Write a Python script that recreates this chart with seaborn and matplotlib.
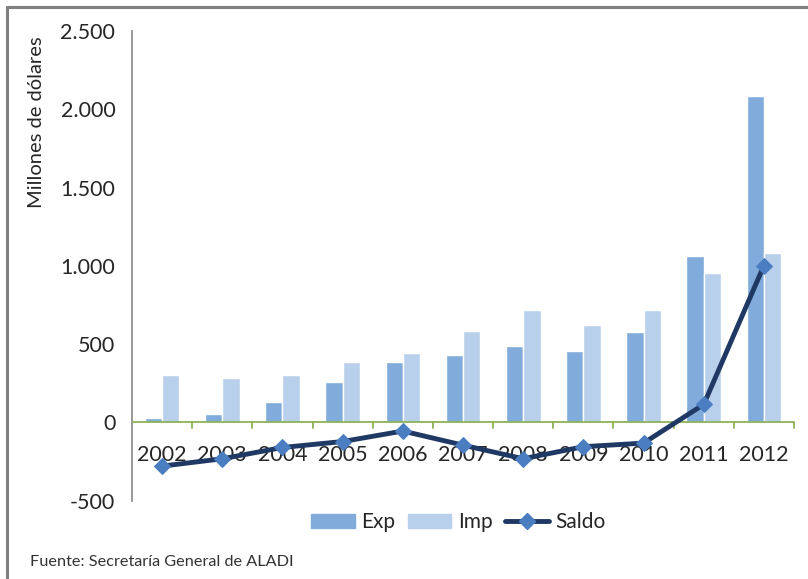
import numpy as np
import pandas as pd
import matplotlib
matplotlib.use('Agg')
import matplotlib.pyplot as plt
import seaborn as sns
from matplotlib.lines import Line2D
from matplotlib.patches import Patch

# Data (millones de dolares)
years = ['2002', '2003', '2004', '2005', '2006', '2007', '2008', '2009', '2010', '2011', '2012']
exp_vals = [30, 55, 130, 260, 387, 430, 491, 457, 579, 1065, 2082]
imp_vals = [306, 285, 300, 389, 442, 587, 721, 621, 715, 957, 1083]
saldo_vals = [-279, -232, -160, -122, -55, -145, -232, -155, -132, 115, 1002]

exp_color = '#80ABDB'
imp_color = '#B9D0EC'
line_color = '#1F3864'
marker_color = '#4A7EC1'
axis_gray = '#868686'
zero_green = '#8DB255'

sns.set_style('white')
plt.rcParams['font.family'] = ['Lato', 'DejaVu Sans']

df = pd.DataFrame({
    'year': years * 2,
    'valor': exp_vals + imp_vals,
    'serie': ['Exp'] * len(years) + ['Imp'] * len(years),
})

fig = plt.figure(figsize=(8.08, 5.79), dpi=100)
ax = fig.add_axes([0.1634, 0.1352, 0.8193, 0.8113])

sns.barplot(data=df, x='year', y='valor', hue='serie', order=years,
            palette={'Exp': exp_color, 'Imp': imp_color}, width=0.575,
            saturation=1, legend=False, ax=ax)
sns.lineplot(x=np.arange(len(years)), y=saldo_vals, color=line_color, lw=3.5,
             marker='D', markersize=8, markerfacecolor=marker_color,
             markeredgecolor=marker_color, ax=ax, zorder=5)

ax.set_xlim(-0.5, len(years) - 0.5)
ax.set_ylim(-500, 2500)
ax.set_yticks(range(-500, 2501, 500))
ax.set_yticklabels(['-500', '0', '500', '1.000', '1.500', '2.000', '2.500'], fontsize=15.5)
ax.set_xlabel('')
ax.set_ylabel('Millones de dólares', fontsize=14.5)
ax.yaxis.set_label_coords(-0.132, 0.806)

# spines
for s in ['top', 'right', 'bottom']:
    ax.spines[s].set_visible(False)
ax.spines['left'].set_color(axis_gray)
ax.spines['left'].set_linewidth(1.2)
ax.tick_params(axis='y', direction='out', length=5, color=axis_gray, width=1.2, pad=7)

# category axis sits on zero
ax.axhline(0, color=zero_green, lw=1.3, zorder=3)
ax.set_xticks(np.arange(len(years)))
ax.set_xticklabels(years, fontsize=15.5)
ax.tick_params(axis='x', length=0, pad=-40)
for xb in np.arange(0.5, len(years), 1.0):
    ax.plot([xb, xb], [0, -38], color=zero_green, lw=1.3, clip_on=False, zorder=3)
for lab in ax.get_xticklabels():
    lab.set_zorder(4)

handles = [Patch(color=exp_color, label='Exp'),
           Patch(color=imp_color, label='Imp'),
           Line2D([0], [0], color=line_color, lw=3.5, marker='D', markersize=8,
                  markerfacecolor=marker_color, markeredgecolor=marker_color, label='Saldo')]
fig.legend(handles=handles, loc='center', bbox_to_anchor=(0.567, 0.098), ncol=3,
           frameon=False, fontsize=15, handlelength=2.1, handleheight=0.6,
           columnspacing=0.6, handletextpad=0.3)

fig.text(0.037, 0.022, 'Fuente: Secretaría General de ALADI', fontsize=11.7, color='#333333')

# outer frame (top and left edges)
fig.add_artist(Line2D([0.009, 1.0], [0.988, 0.988], color='#808080', lw=2.2, transform=fig.transFigure))
fig.add_artist(Line2D([0.009, 0.009], [0.0, 0.988], color='#808080', lw=2.2, transform=fig.transFigure))

fig.savefig('out.png', dpi=100)
